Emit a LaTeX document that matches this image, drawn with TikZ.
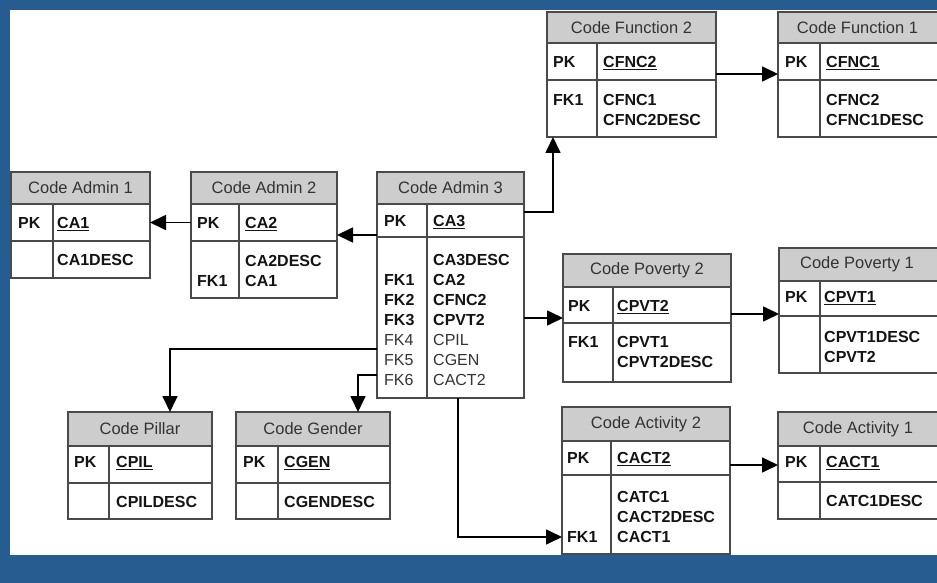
\documentclass[tikz,border=0pt]{standalone}
\usepackage{fontspec}
\setmainfont{Liberation Sans}
\usetikzlibrary{arrows.meta,calc}
\definecolor{bgblue}{HTML}{265C8F}
\definecolor{hdrgray}{HTML}{CDCDCD}
\definecolor{bordc}{HTML}{4A4A4A}
\definecolor{txtc}{HTML}{141414}
\definecolor{regc}{HTML}{333333}
\newcounter{tnc}
\newcommand\erdtbl[8]{%
  \node[hdrbox, minimum width=#4, minimum height=#6, anchor=north west] (#1h) at (#2,#3) {};
  \node[rowbox, minimum width=#4, minimum height=#7, anchor=north west] (#1p) at (#1h.south west) {};
  \node[rowbox, minimum width=#4, minimum height=#8, anchor=north west] (#1b) at (#1p.south west) {};
  \draw[bord] ([xshift=#5]#1p.north west) -- ([xshift=#5]#1b.south west);}
\newcommand\ftxt[4]{%
  \stepcounter{tnc}\node[#1, anchor=base west] (t\arabic{tnc}) at (#2,#3+5.7) {#4};}
\begin{document}
\begin{tikzpicture}[x=1pt,y=-1pt,
  hdrbox/.style={draw=bordc, line width=1.3pt, fill=hdrgray, inner sep=0pt, outer sep=0pt},
  rowbox/.style={draw=bordc, line width=1.3pt, fill=white, inner sep=0pt, outer sep=0pt},
  bord/.style={draw=bordc, line width=1.3pt},
  ttl/.style={inner sep=0pt, text=regc, font=\fontsize{16.5}{20}\selectfont},
  fb/.style={inner sep=0pt, text=txtc, font=\fontsize{16}{20}\selectfont\bfseries},
  fr/.style={inner sep=0pt, text=regc, font=\fontsize{16}{20}\selectfont},
  conn/.style={draw=black, line width=1.7pt, -{Triangle[length=16pt,width=15pt]}}]
\useasboundingbox (0,0) rectangle (937,583);
\clip (0,0) rectangle (937,583);
\fill[bgblue] (0,0) rectangle (937,583);
\fill[white] (10,10) rectangle (945,555);

% tables: name, x, y, width, divider, header h, pk h, body h
\erdtbl{ca1}{11}{172}{139}{42}{32}{37}{37}
\erdtbl{ca2}{191}{172}{146}{48}{32}{37}{57}
\erdtbl{ca3}{377}{172}{147}{50}{32}{33}{161}
\erdtbl{cf2}{547}{12}{169}{50}{31}{37}{57}
\erdtbl{cf1}{778}{12}{162}{42}{31}{37}{57}
\erdtbl{cp2}{563}{254}{168}{50}{33}{36}{59}
\erdtbl{cp1}{779}{248}{162}{41}{33}{35}{57}
\erdtbl{cac2}{562}{407}{168}{49}{34}{34}{79}
\erdtbl{cac1}{778}{412}{162}{42}{34}{36}{37}
\erdtbl{cpil}{68}{412}{144}{41}{34}{37}{36}
\erdtbl{cgen}{236}{412}{154}{42}{34}{37}{36}

% titles
\node[ttl] (ca1t) at (ca1h.center) {Code Admin 1};
\node[ttl] (ca2t) at (ca2h.center) {Code Admin 2};
\node[ttl] (ca3t) at (ca3h.center) {Code Admin 3};
\node[ttl] (cf2t) at (cf2h.center) {Code Function 2};
\node[ttl] (cf1t) at ([xshift=-1.5]cf1h.center) {Code Function 1};
\node[ttl] (cp2t) at (cp2h.center) {Code Poverty 2};
\node[ttl] (cp1t) at ([xshift=-3]cp1h.center) {Code Poverty 1};
\node[ttl] (cac2t) at (cac2h.center) {Code Activity 2};
\node[ttl] (cac1t) at ([xshift=-1]cac1h.center) {Code Activity 1};
\node[ttl] (cpilt) at (cpilh.center) {Code Pillar};
\node[ttl] (cgent) at (cgenh.center) {Code Gender};

% Code Admin 1
\ftxt{fb}{18}{223}{PK}
\ftxt{fb}{57}{223}{\underline{CA1}}
\ftxt{fb}{57}{260}{CA1DESC}
% Code Admin 2
\ftxt{fb}{197}{223}{PK}
\ftxt{fb}{245}{223}{\underline{CA2}}
\ftxt{fb}{245}{261}{CA2DESC}
\ftxt{fb}{197}{281}{FK1}
\ftxt{fb}{245}{281}{CA1}
% Code Admin 3
\ftxt{fb}{384}{221}{PK}
\ftxt{fb}{433}{221}{\underline{CA3}}
\ftxt{fb}{433}{260}{CA3DESC}
\ftxt{fb}{384}{280}{FK1}
\ftxt{fb}{433}{280}{CA2}
\ftxt{fb}{384}{300}{FK2}
\ftxt{fb}{433}{300}{CFNC2}
\ftxt{fb}{384}{320}{FK3}
\ftxt{fb}{433}{320}{CPVT2}
\ftxt{fr}{384}{340}{FK4}
\ftxt{fr}{433}{340}{CPIL}
\ftxt{fr}{384}{360}{FK5}
\ftxt{fr}{433}{360}{CGEN}
\ftxt{fr}{384}{380}{FK6}
\ftxt{fr}{433}{380}{CACT2}
% Code Function 2
\ftxt{fb}{553}{62}{PK}
\ftxt{fb}{603}{62}{\underline{CFNC2}}
\ftxt{fb}{553}{100}{FK1}
\ftxt{fb}{603}{100}{CFNC1}
\ftxt{fb}{603}{120}{CFNC2DESC}
% Code Function 1
\ftxt{fb}{785}{62}{PK}
\ftxt{fb}{826}{62}{\underline{CFNC1}}
\ftxt{fb}{826}{100}{CFNC2}
\ftxt{fb}{826}{120}{CFNC1DESC}
% Code Poverty 2
\ftxt{fb}{568}{306}{PK}
\ftxt{fb}{617}{306}{\underline{CPVT2}}
\ftxt{fb}{568}{342}{FK1}
\ftxt{fb}{617}{342}{CPVT1}
\ftxt{fb}{617}{362}{CPVT2DESC}
% Code Poverty 1
\ftxt{fb}{785}{297}{PK}
\ftxt{fb}{824}{297}{\underline{CPVT1}}
\ftxt{fb}{824}{337}{CPVT1DESC}
\ftxt{fb}{824}{357}{CPVT2}
% Code Activity 2
\ftxt{fb}{567}{458}{PK}
\ftxt{fb}{617}{458}{\underline{CACT2}}
\ftxt{fb}{617}{497}{CATC1}
\ftxt{fb}{617}{517}{CACT2DESC}
\ftxt{fb}{567}{537}{FK1}
\ftxt{fb}{617}{537}{CACT1}
% Code Activity 1
\ftxt{fb}{785}{462}{PK}
\ftxt{fb}{826}{462}{\underline{CACT1}}
\ftxt{fb}{826}{501}{CATC1DESC}
% Code Pillar
\ftxt{fb}{74}{462}{PK}
\ftxt{fb}{116}{462}{\underline{CPIL}}
\ftxt{fb}{116}{502}{CPILDESC}
% Code Gender
\ftxt{fb}{243}{462}{PK}
\ftxt{fb}{284}{462}{\underline{CGEN}}
\ftxt{fb}{284}{502}{CGENDESC}

% connectors
\draw[conn] (ca2p.west) -- (ca1p.east);
\draw[conn] ([yshift=2]ca3p.south west) -- ([yshift=2]ca3p.south west -| ca2p.east);
\draw[conn] ([yshift=-8]ca3p.north east) -| ([xshift=6]cf2b.south west);
\coordinate (cp2in) at ([yshift=-13]cp2p.west);
\draw[conn] (ca3b.east |- cp2in) -- (cp2in);
\draw[conn] ([yshift=-12.5]cf2p.east) -- ([yshift=-12.5]cf2p.east -| cf1p.west);
\draw[conn] ([yshift=-9]cp2p.east) -- ([yshift=-9]cp2p.east -| cp1p.west);
\draw[conn] ([yshift=-31.5]ca3b.west) -| ([xshift=102]cpilh.north west);
\draw[conn] ([yshift=-57.5]ca3b.west) -| ([xshift=122]cgenh.north west);
\draw[conn] ([xshift=81]ca3b.south west) |- ([yshift=-22.5]cac2b.west);
\draw[conn] ([yshift=-7]cac2p.east) -- ([yshift=-7]cac2p.east -| cac1p.west);
\end{tikzpicture}
\end{document}
